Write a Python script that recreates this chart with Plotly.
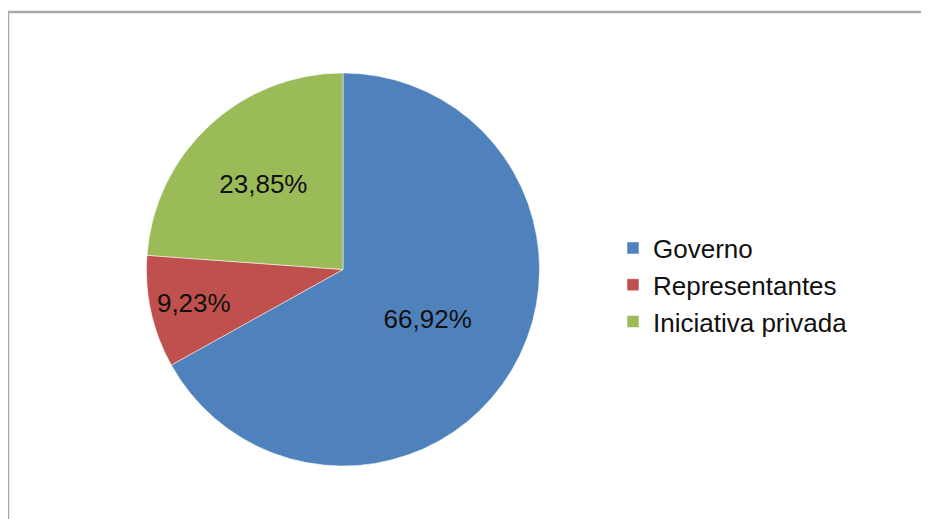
import plotly.graph_objects as go

labels = ["Governo", "Representantes", "Iniciativa privada"]
values = [66.92, 9.23, 23.85]
colors = ["#4F81BD", "#C0504D", "#9BBB59"]

W, H = 929, 519
OFF = 8  # page body margin offset

def px(x):
    return (x - OFF) / W

def py(y):
    return 1 - (y - OFF) / H

fig = go.Figure(go.Pie(
    labels=labels,
    values=values,
    sort=False,
    direction="clockwise",
    rotation=0,
    marker=dict(colors=colors, line=dict(color="#ffffff", width=0.5)),
    texttemplate="%{percent:.2%}",
    textposition="inside",
    insidetextorientation="horizontal",
    textfont=dict(family="Liberation Sans, Arial, sans-serif", size=26, color="#111111"),
    hoverinfo="label+percent",
    domain=dict(x=[px(146), px(540)], y=[py(466), py(73)]),
))

fig.update_layout(
    width=W, height=H,
    margin=dict(l=0, r=0, t=0, b=0),
    paper_bgcolor="white",
    plot_bgcolor="white",
    separators=", ",
    font=dict(family="Liberation Sans, Arial, sans-serif", color="#111111"),
    legend=dict(
        x=px(613), xanchor="left",
        y=py(285), yanchor="middle",
        font=dict(size=26, color="#111111"),
        bgcolor="rgba(0,0,0,0)",
        itemclick=False,
    ),
    shapes=[
        dict(type="line", xref="paper", yref="paper",
             x0=px(8), x1=1.0, y0=py(12), y1=py(12),
             line=dict(color="#a8a8a8", width=2.5)),
        dict(type="line", xref="paper", yref="paper",
             x0=px(8), x1=px(8), y0=py(12), y1=0,
             line=dict(color="#a8a8a8", width=2.5)),
    ],
)

fig.write_html("out.html")
